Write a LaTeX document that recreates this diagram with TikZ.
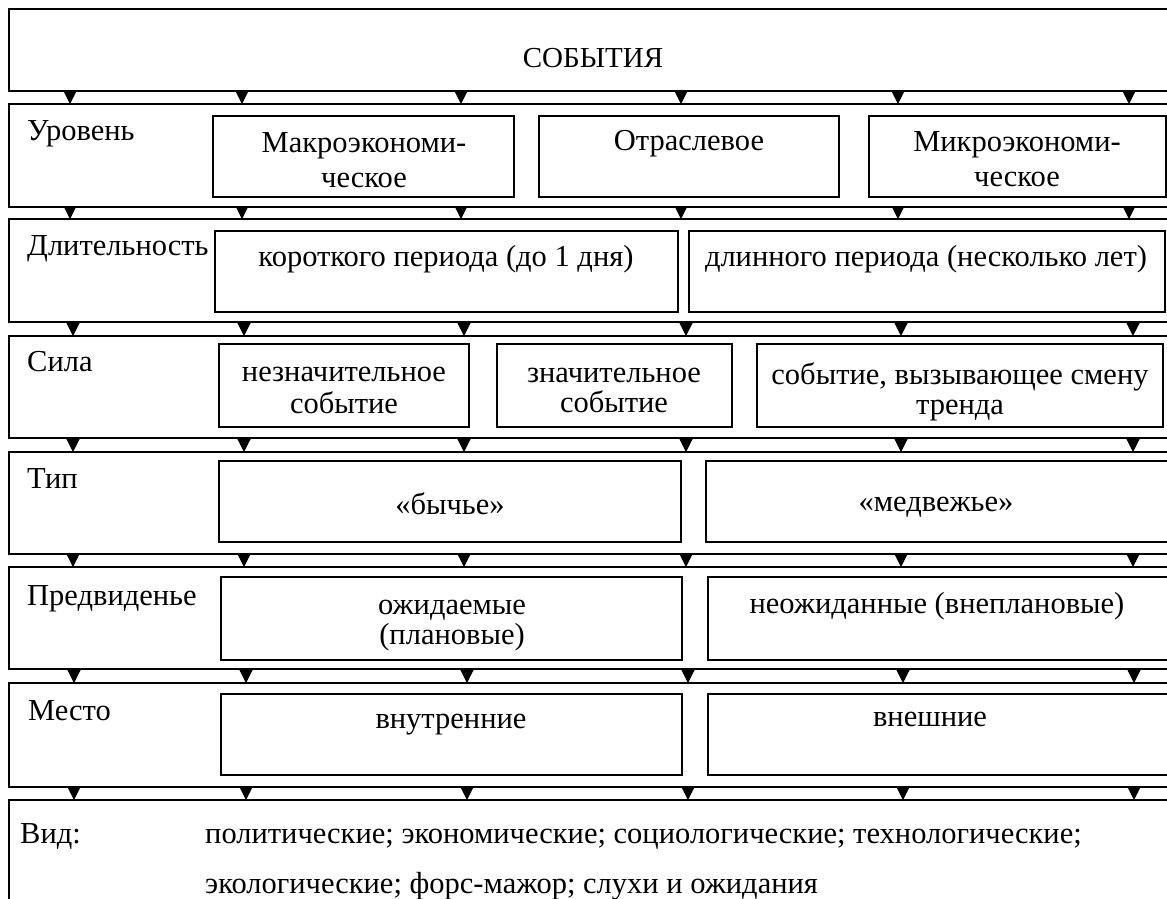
\documentclass[tikz,border=0pt]{standalone}
\usepackage{fontspec}
\setmainfont{Liberation Serif}
\usetikzlibrary{arrows.meta}
\begin{document}
\begin{tikzpicture}[x=1pt,y=-1pt,
  rowbox/.style={draw, line width=1.3pt, inner sep=0pt, outer sep=0pt},
  inbox/.style={draw, line width=1.3pt, inner sep=0pt, outer sep=0pt},
  txt/.style={anchor=base, inner sep=0pt, align=center, font=\fontsize{30.5}{35}\selectfont},
  lbl/.style={anchor=base west, inner sep=0pt, font=\fontsize{30.5}{35}\selectfont},
  arr/.style={line width=1pt, -{Triangle[length=13pt,width=13pt]}}]
\clip (0,0) rectangle (1167,898);
\fill[white] (0,0) rectangle (1167,898);
% rows
\node[rowbox, minimum width=1171pt, minimum height=82pt]  (r0) at (594.5,50) {};
\node[rowbox, minimum width=1171pt, minimum height=103pt] (r1) at (594.5,155.5) {};
\node[rowbox, minimum width=1171pt, minimum height=103pt] (r2) at (594.5,270.5) {};
\node[rowbox, minimum width=1171pt, minimum height=102pt] (r3) at (594.5,387) {};
\node[rowbox, minimum width=1171pt, minimum height=102pt] (r4) at (594.5,503) {};
\node[rowbox, minimum width=1171pt, minimum height=102pt] (r5) at (594.5,618) {};
\node[rowbox, minimum width=1171pt, minimum height=104pt] (r6) at (594.5,735) {};
\node[rowbox, minimum width=1171pt, minimum height=150pt] (r7) at (594.5,875) {};
% inner boxes
\node[inbox, minimum width=301pt, minimum height=81pt] (b11) at (363.5,156.5) {};
\node[inbox, minimum width=300pt, minimum height=81pt] (b12) at (689,156.5) {};
\node[inbox, minimum width=297pt, minimum height=81pt] (b13) at (1017.5,156.5) {};
\node[inbox, minimum width=463pt, minimum height=81pt] (b21) at (446.5,271.5) {};
\node[inbox, minimum width=476pt, minimum height=81pt] (b22) at (927,271.5) {};
\node[inbox, minimum width=250pt, minimum height=83pt] (b31) at (344,385.5) {};
\node[inbox, minimum width=235pt, minimum height=83pt] (b32) at (614.5,385.5) {};
\node[inbox, minimum width=406pt, minimum height=83pt] (b33) at (960,385.5) {};
\node[inbox, minimum width=462pt, minimum height=81pt] (b41) at (450,501.5) {};
\node[inbox, minimum width=464pt, minimum height=81pt] (b42) at (938,501.5) {};
\node[inbox, minimum width=461pt, minimum height=83pt] (b51) at (451.5,618.5) {};
\node[inbox, minimum width=462pt, minimum height=83pt] (b52) at (939,618.5) {};
\node[inbox, minimum width=461pt, minimum height=81pt] (b61) at (451.5,734.5) {};
\node[inbox, minimum width=462pt, minimum height=81pt] (b62) at (939,734.5) {};
% texts
\node[txt, font=\fontsize{29}{35}\selectfont] (t0) at (593,67) {СОБЫТИЯ};
\node[lbl] (l1) at (27,140) {Уровень};
\node[lbl] (l2) at (27,255) {Длительность};
\node[lbl] (l3) at (27,371) {Сила};
\node[lbl] (l4) at (27,488) {Тип};
\node[lbl] (l5) at (27,605) {Предвиденье};
\node[lbl] (l6) at (28,720) {Место};
\node[lbl] (l7) at (20,843) {Вид:};
\node[lbl] (v1) at (205,843) {политические; экономические; социологические; технологические;};
\node[lbl] (v2) at (205,893) {экологические; форс-мажор; слухи и ожидания};
\node[txt] (t11) at (364,187) {Макроэкономи-\\ческое};
\node[txt] (t12) at (689,150) {Отраслевое};
\node[txt] (t13) at (1017,186) {Микроэкономи-\\ческое};
\node[txt] (t21) at (446,266) {короткого периода (до 1 дня)};
\node[txt] (t22) at (926,266) {длинного периода (несколько лет)};
\node[txt, font=\fontsize{30.5}{32}\selectfont] (t31) at (344,413) {незначительное\\событие};
\node[txt, font=\fontsize{30.5}{30}\selectfont] (t32) at (614,412) {значительное\\событие};
\node[txt, font=\fontsize{30.5}{30}\selectfont] (t33) at (960,414) {событие, вызывающее смену\\тренда};
\node[txt] (t41) at (450,514) {«бычье»};
\node[txt] (t42) at (936,511) {«медвежье»};
\node[txt, font=\fontsize{30.5}{30}\selectfont] (t51) at (452,644) {ожидаемые\\(плановые)};
\node[txt] (t52) at (937,613) {неожиданные (внеплановые)};
\node[txt] (t61) at (451,728) {внутренние};
\node[txt] (t62) at (930,726) {внешние};
% arrow columns
\foreach \g/\up/\dn/\xa/\xb/\xc/\xd/\xe/\xf in {
  0/r0/r1/70/242/461/681/898/1129,
  1/r1/r2/70/242/461/681/898/1129,
  2/r2/r3/73/244/464/686/901/1133,
  3/r3/r4/73/244/464/686/901/1133,
  4/r4/r5/73/244/464/686/901/1133,
  5/r5/r6/74/246/467/688/903/1134,
  6/r6/r7/74/246/467/688/903/1134}{
  \foreach \k/\xx in {1/\xa,2/\xb,3/\xc,4/\xd,5/\xe,6/\xf}{
    \coordinate (c\g-\k) at (\xx,0);
    \draw[arr] (\up.south -| c\g-\k) -- (\dn.north -| c\g-\k);
  }
}
\end{tikzpicture}
\end{document}
